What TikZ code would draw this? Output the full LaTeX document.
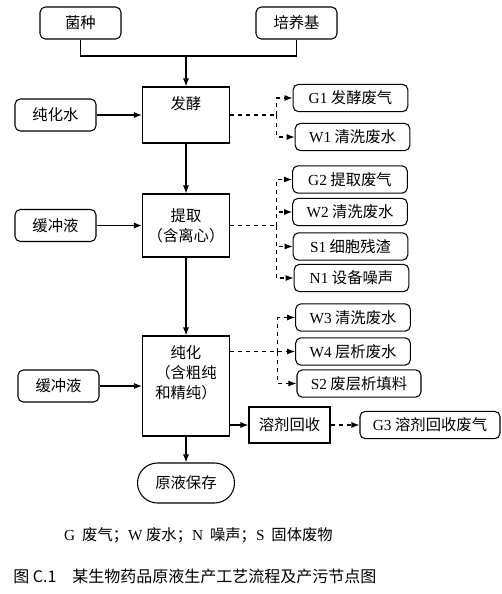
\documentclass[tikz,border=0pt]{standalone}
\usepackage{fontspec}
\setmainfont{Noto Sans CJK SC}
\newfontfamily\tnr{Liberation Serif}
\usepackage{tikz}
\usetikzlibrary{arrows.meta,calc}
\tikzset{
  rbox/.style={draw,thick,rounded corners=4pt,minimum width=60.75pt,minimum height=24pt,inner sep=0pt},
  wbox/.style={draw,thick,rounded corners=4pt,minimum width=86pt,minimum height=20.5pt,inner sep=0pt},
  pbox/.style={draw,thick,minimum width=65.25pt,inner sep=0pt},
  toptxt/.style={anchor=north,yshift=-7.5pt,align=center,inner sep=0pt},
  flow/.style={thick,->},
  waste/.style={thick,dashed,->}
}

\begin{document}
\begin{tikzpicture}[x=0.75pt,y=-0.75pt,>={Latex[length=6pt,width=4.5pt]},font=\fontsize{11.5pt}{15pt}\selectfont]
\useasboundingbox (0,0) rectangle (502,594);
\node (jz) at (80.5,23)[rbox]{菌种};
\node (pyj) at (296.5,23)[rbox]{培养基};
\node (fj) at (186,115)[pbox,minimum height=42pt,label={[toptxt]north:发酵}]{};
\node (chs) at (55.5,115)[rbox]{纯化水};
\coordinate (hb) at (186,56);
\draw[thick] (jz.south) |- (hb) -| (pyj.south);
\draw[flow] (hb) -- (fj.north);
\draw[flow] (chs.east) -- (chs.east -| fj.west);
\node (g1) at (350.5,98)[wbox]{{\tnr G1} 发酵废气};
\node (w1) at (352.5,137)[wbox]{{\tnr W1} 清洗废水};
\draw[thick,dashed] (fj.east) -- ++(46.5,0) coordinate (d1);
\draw[waste] (d1) |- (g1.west);
\draw[waste] (d1) |- (w1.west);
\node (tq) at (186,225.5)[pbox,minimum height=47.25pt,align=center]{提取\\（含离心）};
\node (hcy1) at (55.5,225.5)[rbox]{缓冲液};
\draw[flow] (fj.south) -- (tq.north);
\draw[flow] (hcy1.east) -- (hcy1.east -| tq.west);
\node (g2) at (350,179.5)[wbox]{{\tnr G2} 提取废气};
\node (w2) at (350,212)[wbox]{{\tnr W2} 清洗废水};
\node (s1) at (350.5,246.5)[wbox]{{\tnr S1} 细胞残渣};
\node (n1) at (351.5,278)[wbox]{{\tnr N1} 设备噪声};
\draw[thick,dashed] (tq.east) -- ++(46,0) coordinate (d2);
\draw[waste] (d2) |- (g2.west);
\draw[waste] (d2) |- (w2.west);
\draw[waste] (d2) |- (s1.west);
\draw[waste] (d2) |- (n1.west);
\node (ch) at (186,386)[pbox,minimum height=75pt,label={[toptxt]north:{纯化\\（含粗纯\\和精纯）}}]{};
\node (hcy2) at (58.5,386)[rbox]{缓冲液};
\draw[flow] (tq.south) -- (ch.north);
\draw[flow] (hcy2.east) -- (hcy2.east -| ch.west);
\node (w3) at (353,317.5)[wbox]{{\tnr W3} 清洗废水};
\node (w4) at (353,351.5)[wbox]{{\tnr W4} 层析废水};
\node (s2) at (359,383.5)[wbox,minimum width=93pt]{{\tnr S2} 废层析填料};
\draw[waste] (ch.east |- w4) -- (w4.west);
\path (ch.east |- w4) ++(47.5,0) coordinate (d3);
\draw[waste] (d3) |- (w3.west);
\draw[waste] (d3) |- (s2.west);
\node (rjhs) at (289.5,425)[draw,thick,minimum width=60.75pt,minimum height=27pt]{溶剂回收};
\node (g3) at (430,425)[wbox,minimum width=105pt]{{\tnr G3} 溶剂回收废气};
\draw[flow] (ch.east |- rjhs) -- (rjhs.west);
\draw[waste] (rjhs.east) -- (g3.west);
\node (yybc) at (186,483)[draw,thick,rounded corners=15pt,minimum width=72.75pt,minimum height=30pt]{原液保存};
\draw[flow] (ch.south) -- (yybc.north);
\node (lg) at (198.5,535){{\tnr G}\ \ 废气；{\tnr W}\ 废水；{\tnr N}\ \ 噪声；{\tnr S}\ \ 固体废物};
\node (cap) at (13,576)[anchor=west,inner sep=0pt,font=\fontsize{12pt}{15pt}\selectfont]{图 C.1\quad 某生物药品原液生产工艺流程及产污节点图};
%\draw[help lines] (0,0) grid (502,594);
\end{tikzpicture}
\end{document}
